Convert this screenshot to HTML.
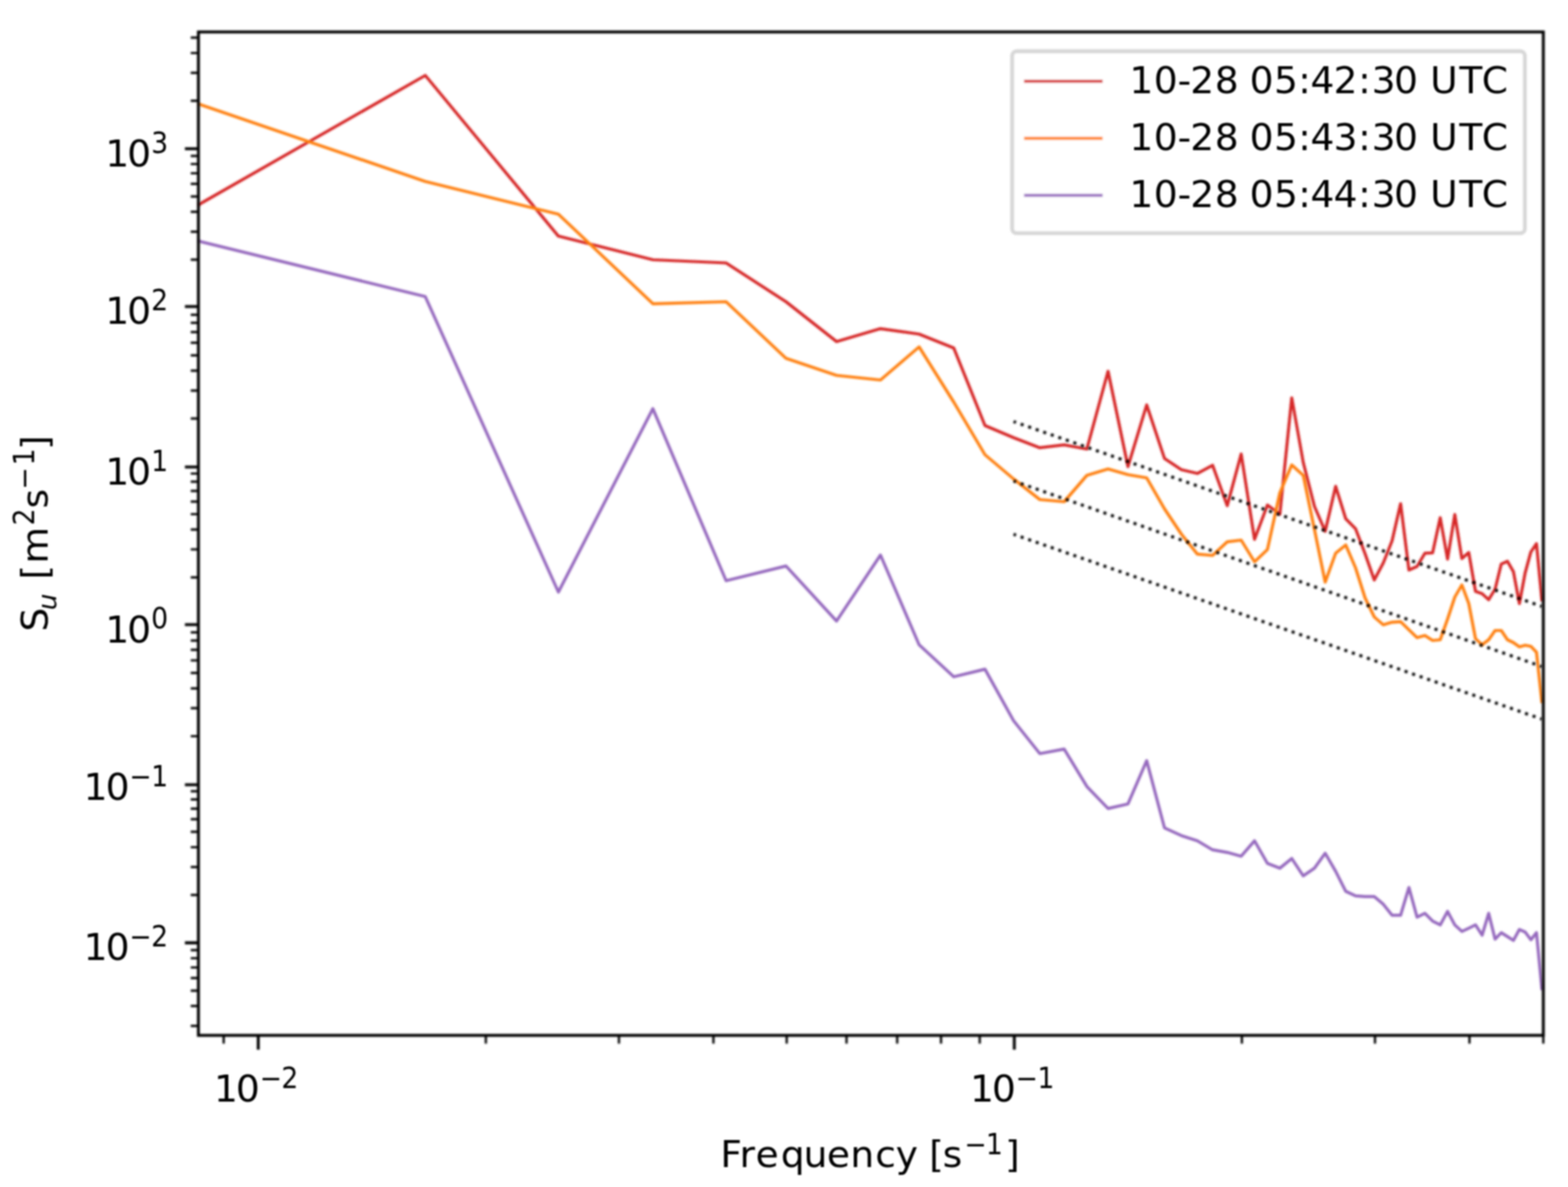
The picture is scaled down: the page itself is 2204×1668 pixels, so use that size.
<!DOCTYPE html>
<html lang="en">
<head>
<meta charset="utf-8">
<title>Velocity spectra S_u versus frequency</title>
<style>
html,body{margin:0;padding:0;background:#fff}
body{width:2204px;height:1668px;overflow:hidden}
svg{display:block}
text{font-family:"DejaVu Sans","Liberation Sans",sans-serif;font-size:52.92px;fill:#000;white-space:pre}
.c{font-family:"DejaVu Sans Condensed","DejaVu Sans","Liberation Sans",sans-serif}
.i{font-style:italic}
</style>
</head>
<body>
<svg width="2204" height="1668" viewBox="0 0 2204 1668" role="img" aria-label="Log-log plot of velocity spectra against frequency for three one-minute periods">
<defs>
<clipPath id="ax"><rect x="278.9" y="44.9" width="1890.4" height="1410.0"/></clipPath>
<filter id="bl" filterUnits="userSpaceOnUse" x="0" y="0" width="2204" height="1668"><feGaussianBlur stdDeviation="1.60"/></filter>
<filter id="bd" filterUnits="userSpaceOnUse" x="0" y="0" width="2204" height="1668"><feGaussianBlur stdDeviation="1.70"/></filter>
<filter id="ba" filterUnits="userSpaceOnUse" x="0" y="0" width="2204" height="1668"><feGaussianBlur stdDeviation="1.50"/></filter>
<filter id="bt" filterUnits="userSpaceOnUse" x="0" y="0" width="2204" height="1668"><feGaussianBlur stdDeviation="1.30"/></filter>
</defs>
<rect width="2204" height="1668" fill="#fff"/>
<!-- spectra -->
<g filter="url(#bl)"><g clip-path="url(#ax)" fill="none" stroke-linejoin="round" stroke-width="4.23">
<polyline stroke="#d62728" points="277.9,288.3 597.8,106.0 784.9,331.8 917.7,365.0 1020.6,369.5 1104.8,424.0 1175.9,480.0 1237.6,461.8 1291.9,469.5 1340.6,489.0 1384.5,598.0 1424.7,615.0 1461.6,629.2 1495.8,625.2 1527.7,631.0 1557.5,521.7 1585.5,655.7 1611.8,569.0 1636.8,644.2 1660.5,660.0 1683.0,665.3 1704.4,653.8 1725.0,710.6 1744.6,638.0 1763.4,757.8 1781.5,709.7 1799.0,722.4 1815.7,559.0 1831.9,650.0 1847.6,711.5 1862.7,746.6 1877.4,683.4 1891.6,729.0 1905.4,743.0 1918.7,778.0 1931.7,815.0 1944.4,791.0 1956.7,760.0 1968.7,707.8 1980.4,801.0 1991.8,796.0 2002.9,777.4 2013.7,776.8 2024.4,727.5 2034.7,785.7 2044.9,723.0 2054.8,784.8 2064.5,776.4 2074.0,831.1 2083.3,834.2 2092.5,842.7 2101.5,828.0 2110.2,792.6 2118.9,788.7 2127.3,803.4 2135.7,848.1 2143.8,804.9 2151.8,775.6 2159.7,764.0 2167.5,845.0"/>
<polyline stroke="#ff7f0e" points="277.9,145.7 597.8,255.0 784.9,301.0 917.7,426.8 1020.6,424.0 1104.8,503.5 1175.9,527.5 1237.6,534.0 1291.9,487.5 1340.6,565.0 1384.5,639.0 1424.7,673.0 1461.6,702.0 1495.8,705.0 1527.7,668.0 1557.5,659.0 1585.5,667.0 1611.8,671.5 1636.8,715.0 1660.5,750.5 1683.0,778.6 1704.4,780.5 1725.0,761.4 1744.6,759.0 1763.4,789.5 1781.5,772.3 1799.0,692.5 1815.7,653.4 1831.9,668.0 1847.6,744.0 1862.7,818.0 1877.4,777.4 1891.6,765.8 1905.4,798.0 1918.7,840.0 1931.7,867.0 1944.4,878.0 1956.7,874.3 1968.7,873.6 1980.4,885.0 1991.8,896.0 2002.9,893.0 2013.7,900.0 2024.4,899.0 2034.7,870.0 2044.9,839.0 2054.8,822.0 2064.5,848.0 2074.0,897.5 2083.3,906.0 2092.5,899.0 2101.5,886.0 2110.2,886.0 2118.9,899.0 2127.3,903.0 2135.7,909.0 2143.8,906.7 2151.8,908.3 2159.7,916.5 2167.5,988.0"/>
<polyline stroke="#9467bd" points="277.9,338.5 597.8,416.8 784.9,832.0 917.7,574.3 1020.6,816.0 1104.8,795.4 1175.9,872.7 1237.6,780.0 1291.9,906.0 1340.6,951.0 1384.5,940.4 1424.7,1012.7 1461.6,1059.0 1495.8,1052.6 1527.7,1105.2 1557.5,1136.1 1585.5,1129.7 1611.8,1068.9 1636.8,1163.3 1660.5,1174.2 1683.0,1181.5 1704.4,1194.2 1725.0,1197.8 1744.6,1203.2 1763.4,1181.5 1781.5,1213.2 1799.0,1220.0 1815.7,1206.3 1831.9,1230.8 1847.6,1219.9 1862.7,1199.0 1877.4,1224.4 1891.6,1252.5 1905.4,1258.9 1918.7,1259.8 1931.7,1259.8 1944.4,1270.7 1956.7,1286.1 1968.7,1286.1 1980.4,1247.1 1991.8,1288.8 2002.9,1283.4 2013.7,1294.3 2024.4,1299.7 2034.7,1280.7 2044.9,1299.7 2054.8,1308.8 2064.5,1304.3 2074.0,1299.7 2083.3,1314.2 2092.5,1283.4 2101.5,1319.7 2110.2,1310.6 2118.9,1316.1 2127.3,1321.5 2135.7,1306.1 2143.8,1309.7 2151.8,1320.6 2159.7,1310.6 2167.5,1391.4"/>
</g></g>
<!-- -5/3 reference slopes -->
<g filter="url(#bd)"><g clip-path="url(#ax)" fill="none" stroke="#000" stroke-width="4.23" stroke-dasharray="4.23 6.98" stroke-dashoffset="0.60">
<line x1="1424.7" y1="592.4" x2="2167.5" y2="852.2"/>
<line x1="1424.7" y1="675.9" x2="2167.5" y2="936.7"/>
<line x1="1424.7" y1="750.8" x2="2167.5" y2="1010.6"/>
</g></g>
<!-- axes -->
<g filter="url(#ba)" fill="none" stroke="#000" stroke-width="4.07">
<path d="M363 1454.9v20M1425.7 1454.9v20M278.9 209h-19M278.9 430.8h-19M278.9 656.3h-19M278.9 877.8h-19M278.9 1102.8h-19M278.9 1324.9h-19"/>
<path stroke-width="3.18" d="M314.4 1454.9v11.5M682.9 1454.9v11.5M870 1454.9v11.5M1002.8 1454.9v11.5M1105.8 1454.9v11.5M1189.9 1454.9v11.5M1261.1 1454.9v11.5M1322.7 1454.9v11.5M1377.1 1454.9v11.5M1745.6 1454.9v11.5M1932.7 1454.9v11.5M2065.5 1454.9v11.5M2169.3 1454.9v11.5M278.9 1441.6h-10.8M278.9 1413.7h-10.8M278.9 1392.1h-10.8M278.9 1374.4h-10.8M278.9 1359.5h-10.8M278.9 1346.5h-10.8M278.9 1335.1h-10.8M278.9 1257.7h-10.8M278.9 1218.4h-10.8M278.9 1190.5h-10.8M278.9 1168.9h-10.8M278.9 1151.2h-10.8M278.9 1136.3h-10.8M278.9 1123.3h-10.8M278.9 1111.9h-10.8M278.9 1034.5h-10.8M278.9 995.2h-10.8M278.9 967.3h-10.8M278.9 945.7h-10.8M278.9 928h-10.8M278.9 913.1h-10.8M278.9 900.1h-10.8M278.9 888.7h-10.8M278.9 811.3h-10.8M278.9 772h-10.8M278.9 744.1h-10.8M278.9 722.5h-10.8M278.9 704.8h-10.8M278.9 689.9h-10.8M278.9 676.9h-10.8M278.9 665.5h-10.8M278.9 588.1h-10.8M278.9 548.8h-10.8M278.9 520.9h-10.8M278.9 499.3h-10.8M278.9 481.6h-10.8M278.9 466.7h-10.8M278.9 453.7h-10.8M278.9 442.3h-10.8M278.9 364.9h-10.8M278.9 325.6h-10.8M278.9 297.7h-10.8M278.9 276.1h-10.8M278.9 258.4h-10.8M278.9 243.5h-10.8M278.9 230.5h-10.8M278.9 219.1h-10.8M278.9 141.7h-10.8M278.9 102.4h-10.8M278.9 74.5h-10.8M278.9 52.9h-10.8"/>
<rect x="278.9" y="44.9" width="1890.4" height="1410.0"/>
</g>
<!-- tick labels and axis labels -->
<g filter="url(#bt)">
<text transform="translate(0 233.8) scale(1 0.970)"><tspan x="148 178.8" y="0">10</tspan><tspan class="c" font-size="41.62" x="212.6" y="-19.7">3</tspan></text>
<text transform="translate(0 455.2) scale(1 0.970)"><tspan x="148 178.8" y="0">10</tspan><tspan class="c" font-size="41.62" x="212.6" y="-19.7">2</tspan></text>
<text transform="translate(0 680.7) scale(1 0.970)"><tspan x="148 178.8" y="0">10</tspan><tspan class="c" font-size="41.62" x="212.6" y="-19.7">1</tspan></text>
<text transform="translate(0 902.5) scale(1 0.970)"><tspan x="148 178.8" y="0">10</tspan><tspan class="c" font-size="41.62" x="212.6" y="-19.7">0</tspan></text>
<text transform="translate(0 1123.8) scale(1 0.970)"><tspan x="117.6 148.4" y="0">10</tspan><tspan class="c" font-size="41.62" x="181.8 212.4" y="-19.7">−1</tspan></text>
<text transform="translate(0 1348.8) scale(1 0.970)"><tspan x="117.6 148.4" y="0">10</tspan><tspan class="c" font-size="41.62" x="181.8 212.4" y="-19.7">−2</tspan></text>
<text transform="translate(0 1547.9) scale(1 0.970)"><tspan x="300.7 331.5" y="0">10</tspan><tspan class="c" font-size="41.62" x="364.9 395.5" y="-19.7">−2</tspan></text>
<text transform="translate(0 1547.9) scale(1 0.970)"><tspan x="1363.4 1394.2" y="0">10</tspan><tspan class="c" font-size="41.62" x="1427.6 1458.2" y="-19.7">−1</tspan></text>
<text transform="translate(0 1640.1) scale(1 0.970)"><tspan x="1012.4 1039.4 1062 1097.4 1129.6 1162.2 1195.2 1230.3 1258.9 1289.2 1306 1325.1" y="0">Frequency [s</tspan><tspan class="c" font-size="41.62" x="1355.6 1385.8" y="-19.1">−1</tspan><tspan x="1412.7" y="0">]</tspan></text>
<text transform="translate(67.2 0) rotate(-90) scale(1 0.970)"><tspan x="-887.6" y="0">S</tspan><tspan class="i" font-size="37.04" x="-857.5" y="12.1">u</tspan><tspan x="-831.1 -814.4 -792.1" y="0"> [m</tspan><tspan class="c" font-size="41.62" x="-738.3" y="-20.1">2</tspan><tspan x="-714.4" y="0">s</tspan><tspan class="c" font-size="41.62" x="-688.1 -653.9" y="-20.1">−1</tspan><tspan x="-632.2" y="0">]</tspan></text>
</g>
<!-- legend -->
<g filter="url(#bl)">
<rect x="1422.7" y="72.0" width="720.7" height="255.7" rx="6.5" fill="#fff" fill-opacity="0.8" stroke="#d6d6d6" stroke-width="5.29"/>
<line x1="1441.6" y1="114.1" x2="1547.8" y2="114.1" stroke="#d62728" stroke-width="4.23" stroke-linecap="square"/>
<line x1="1441.6" y1="194.3" x2="1547.8" y2="194.3" stroke="#ff7f0e" stroke-width="4.23" stroke-linecap="square"/>
<line x1="1441.6" y1="274.5" x2="1547.8" y2="274.5" stroke="#9467bd" stroke-width="4.23" stroke-linecap="square"/>
</g>
<g filter="url(#bt)">
<text transform="translate(0 131) scale(1 0.970)" x="1587.5 1621.8 1655.3 1673.1 1707.5 1741.5 1756.6 1790.7 1824.7 1841.9 1874.6 1909.1 1928.1 1959.6 1994 2010.3 2051.2 2082.7" y="0">10-28 05:42:30 UTC</text>
<text transform="translate(0 210.8) scale(1 0.970)" x="1587.5 1621.8 1655.3 1673.1 1707.5 1741.5 1756.6 1790.7 1824.7 1841.9 1874.6 1909.1 1928.1 1959.6 1994 2010.3 2051.2 2082.7" y="0">10-28 05:43:30 UTC</text>
<text transform="translate(0 291) scale(1 0.970)" x="1587.5 1621.8 1655.3 1673.1 1707.5 1741.5 1756.6 1790.7 1824.7 1841.9 1874.6 1909.1 1928.1 1959.6 1994 2010.3 2051.2 2082.7" y="0">10-28 05:44:30 UTC</text>
</g>
</svg>
</body>
</html>
